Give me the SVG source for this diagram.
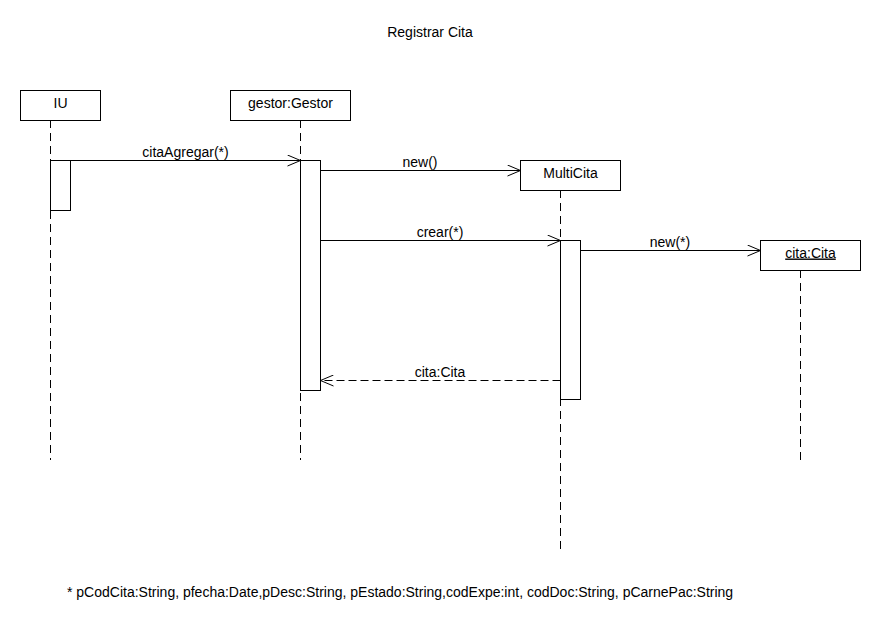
<svg xmlns="http://www.w3.org/2000/svg" width="880" height="630" viewBox="0 0 880 630">
  <defs>
    <style>
      text { font-family: "Liberation Sans", Arial, sans-serif; font-size: 14px; fill: #000; }
      .box { fill: #fff; stroke: #000; stroke-width: 1; }
      .life { stroke: #000; stroke-width: 1; stroke-dasharray: 8 5; fill: none; }
      .msg { stroke: #000; stroke-width: 1; fill: none; }
      .ret { stroke: #000; stroke-width: 1; fill: none; stroke-dasharray: 8 4; }
    </style>
    <marker id="open" markerWidth="16" markerHeight="12" refX="14" refY="6" orient="auto" markerUnits="userSpaceOnUse">
      <path d="M1,0.5 L14,6 L1,11.5" fill="none" stroke="#000" stroke-width="1"/>
    </marker>
  </defs>
  <rect width="880" height="630" fill="#fff"/>

  <text x="430" y="37" text-anchor="middle">Registrar Cita</text>

  <!-- lifelines -->
  <g id="lifelines">
    <line class="life" x1="50.5" y1="120" x2="50.5" y2="460"/>
    <line class="life" x1="300.5" y1="120" x2="300.5" y2="460"/>
    <line class="life" x1="560.5" y1="190" x2="560.5" y2="550"/>
    <line class="life" x1="800.5" y1="270" x2="800.5" y2="460"/>
  </g>

  <g id="IU">
    <rect class="box" x="20.5" y="90.5" width="80" height="30"/>
    <text x="60.5" y="107.5" text-anchor="middle">IU</text>
    <rect class="box" x="50.5" y="160.5" width="20" height="50"/>
  </g>

  <g id="gestor">
    <rect class="box" x="230.5" y="90.5" width="120" height="30"/>
    <text x="290.5" y="107.5" text-anchor="middle">gestor:Gestor</text>
    <rect class="box" x="300.5" y="160.5" width="20" height="230"/>
  </g>

  <g id="multicita">
    <rect class="box" x="520.5" y="160.5" width="100" height="30"/>
    <text x="570.5" y="177.5" text-anchor="middle">MultiCita</text>
    <rect class="box" x="560.5" y="240.5" width="20" height="159"/>
  </g>

  <g id="cita">
    <rect class="box" x="760.5" y="240.5" width="100" height="30"/>
    <text x="810.5" y="257.5" text-anchor="middle" text-decoration="underline">cita:Cita</text>
  </g>

  <g id="connectors">
    <line class="msg" x1="50.5" y1="160.5" x2="300.5" y2="160.5" marker-end="url(#open)"/>
    <text x="185.5" y="157" text-anchor="middle">citaAgregar(*)</text>

    <line class="msg" x1="320.5" y1="170.5" x2="520.5" y2="170.5" marker-end="url(#open)"/>
    <text x="420" y="167" text-anchor="middle">new()</text>

    <line class="msg" x1="320.5" y1="240.5" x2="560.5" y2="240.5" marker-end="url(#open)"/>
    <text x="440" y="237" text-anchor="middle">crear(*)</text>

    <line class="msg" x1="580.5" y1="250.5" x2="760.5" y2="250.5" marker-end="url(#open)"/>
    <text x="670" y="247" text-anchor="middle">new(*)</text>

    <line class="ret" x1="560.5" y1="380.5" x2="320.5" y2="380.5" marker-end="url(#open)"/>
    <text x="440" y="377" text-anchor="middle">cita:Cita</text>
  </g>

  <text x="67" y="597">* pCodCita:String, pfecha:Date,pDesc:String, pEstado:String,codExpe:int, codDoc:String, pCarnePac:String</text>
</svg>
